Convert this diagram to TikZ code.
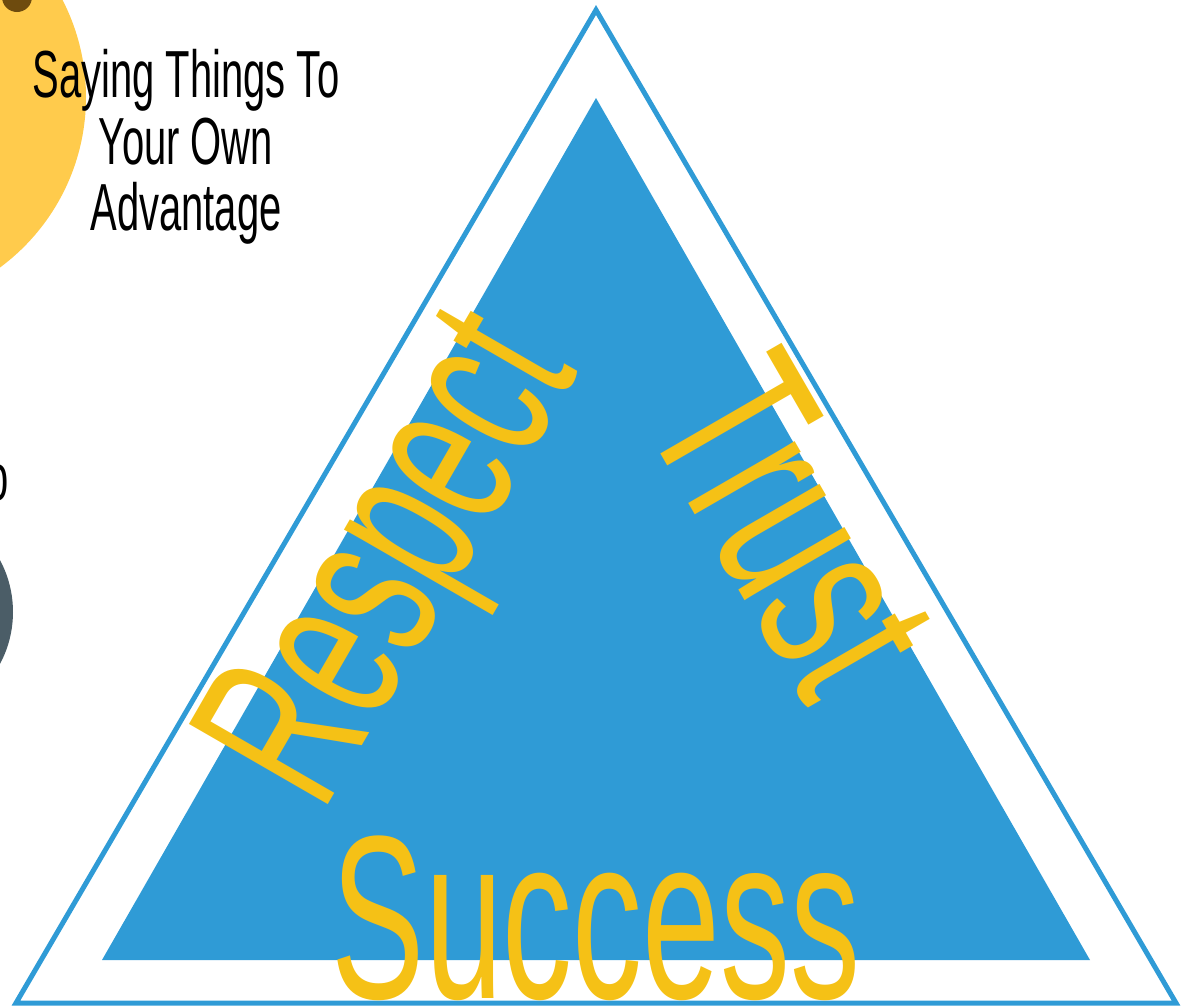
\documentclass[tikz,border=0pt]{standalone}
\usepackage{fontspec}
\newfontfamily\condfont[FakeStretch=0.6]{Liberation Sans}
\newfontfamily\condwidefont[FakeStretch=0.64]{Liberation Sans}
\definecolor{triblue}{HTML}{2F9BD6}
\definecolor{wordyellow}{HTML}{F5C116}
\definecolor{sunyellow}{HTML}{FFCB4C}
\definecolor{dotbrown}{HTML}{6E4B0E}
\definecolor{slategray}{HTML}{4B5D67}
\begin{document}
\begin{tikzpicture}[x=1pt,y=-1pt,
  bigword/.style={inner sep=0pt, text=wordyellow, font=\condfont\fontsize{233}{233}\selectfont},
  blackline/.style={inner sep=0pt, text=black, anchor=base, font=\condfont\fontsize{66.6}{66.6}\selectfont}]
\useasboundingbox (0,0) rectangle (1181,1007);
% side circles
\fill[sunyellow] (-126,97) circle (212);
\fill[dotbrown] (17,-3) circle (15);
\fill[slategray] (-97,612) circle (110);
% triangles
\coordinate (oA) at (596,10);
\coordinate (oB) at (16,1003);
\coordinate (oC) at (1176,1003);
\coordinate (iA) at (596,98);
\coordinate (iB) at (102,960);
\coordinate (iC) at (1090,960);
\draw[triblue, line width=5pt, line join=miter] (oA) -- (oB) -- (oC) -- cycle;
\fill[triblue] (iA) -- (iB) -- (iC) -- cycle;
% texts
\node[blackline] (l1) at (186,97.7) {Saying Things To};
\node[blackline] (l2) at (186,164) {Your Own};
\node[blackline] (l3) at (186,230) {Advantage};
\node[blackline, anchor=base east] (frag) at (9,500) {o};
\node[bigword, anchor=base west, rotate=60] (respect) at (322,815) {Respect};
\node[bigword, anchor=base west, rotate=-60, font=\condwidefont\fontsize{233}{233}\selectfont] (trust) at (641,420) {Trust};
\node[bigword, anchor=base] (success) at (596,998) {Success};
\end{tikzpicture}
\end{document}
